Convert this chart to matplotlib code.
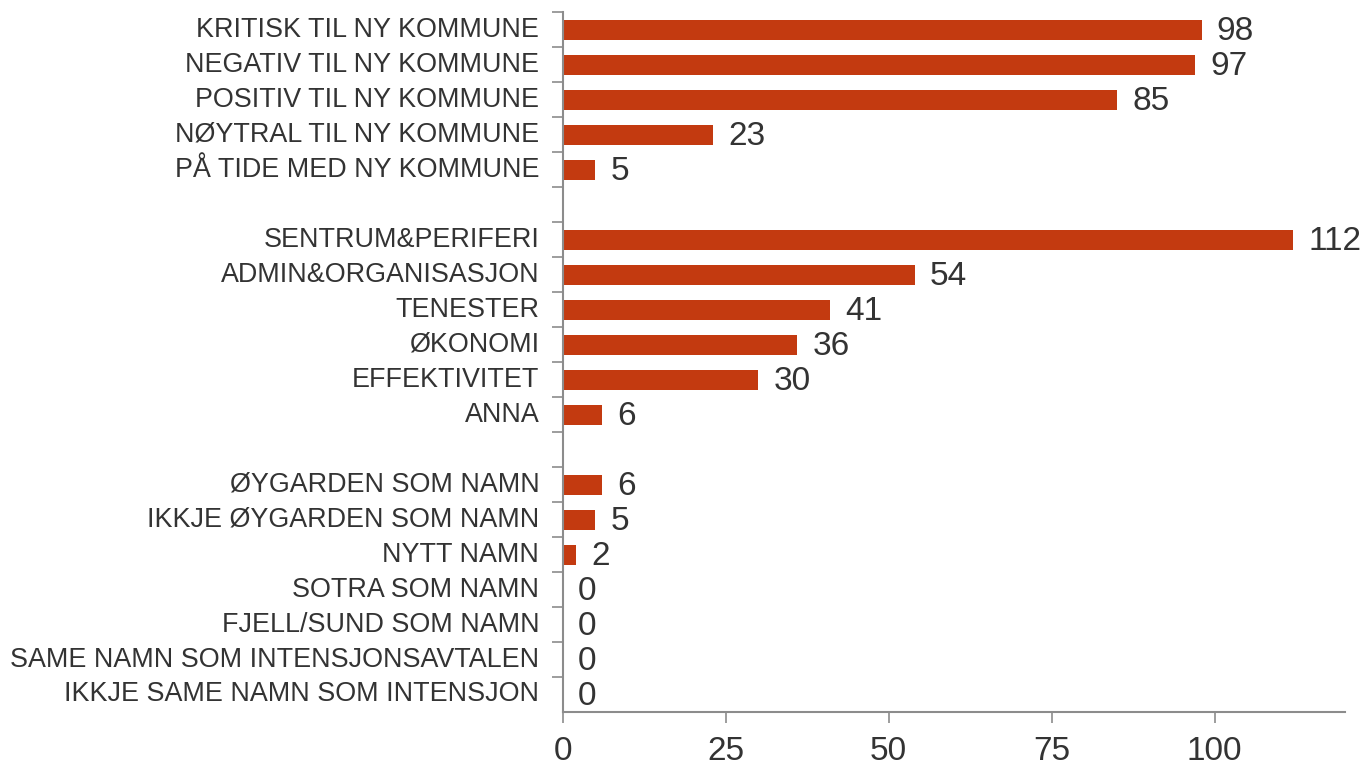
import matplotlib.pyplot as plt

# categories top to bottom; None marks an empty gap row
categories = [
    "KRITISK TIL NY KOMMUNE",
    "NEGATIV TIL NY KOMMUNE",
    "POSITIV TIL NY KOMMUNE",
    "NØYTRAL TIL NY KOMMUNE",
    "PÅ TIDE MED NY KOMMUNE",
    None,
    "SENTRUM&PERIFERI",
    "ADMIN&ORGANISASJON",
    "TENESTER",
    "ØKONOMI",
    "EFFEKTIVITET",
    "ANNA",
    None,
    "ØYGARDEN SOM NAMN",
    "IKKJE ØYGARDEN SOM NAMN",
    "NYTT NAMN",
    "SOTRA SOM NAMN",
    "FJELL/SUND SOM NAMN",
    "SAME NAMN SOM INTENSJONSAVTALEN",
    "IKKJE SAME NAMN SOM INTENSJON",
]
values = [98, 97, 85, 23, 5, None, 112, 54, 41, 36, 30, 6, None, 6, 5, 2, 0, 0, 0, 0]
x_ticks = [0, 25, 50, 75, 100]

BAR = "#C33A10"
TEXT = "#333333"
AXIS = "#8C8C8C"

plt.rcParams["font.family"] = ["Liberation Sans", "DejaVu Sans"]

fig = plt.figure(figsize=(13.66, 7.65), dpi=100)
ax = fig.add_axes([0.412, 0.0693, 0.5726, 0.9147])

n = len(categories)
ypos, vals, labels = [], [], []
for i, (c, v) in enumerate(zip(categories, values)):
    if c is None:
        continue
    ypos.append(i)
    vals.append(v)
    labels.append(c)

ax.barh(ypos, vals, height=0.57, color=BAR)
for y, v in zip(ypos, vals):
    ax.annotate(str(v), (v, y), xytext=(11, -1.5), textcoords="offset points",
                va="center", ha="left", fontsize=24, color=TEXT)

ax.set_ylim(n - 0.5, -0.5)
ax.set_xlim(0, 120)

# category labels as text, ticks at row boundaries
ax.set_yticks([i - 0.5 for i in range(n)])
ax.set_yticklabels([])
for y, c in zip(ypos, labels):
    ax.text(-0.030, y, c, transform=ax.get_yaxis_transform(), ha="right",
            va="center", fontsize=19.4, color=TEXT)
ax.tick_params(axis="y", length=8, color=AXIS, width=1.2)

ax.set_xticks(x_ticks)
ax.tick_params(axis="x", length=8, color=AXIS, width=1.2, labelsize=24,
               labelcolor=TEXT, pad=9)

for s in ["top", "right"]:
    ax.spines[s].set_visible(False)
for s in ["left", "bottom"]:
    ax.spines[s].set_color(AXIS)
    ax.spines[s].set_linewidth(1.5)

fig.savefig("out.png", dpi=100)
